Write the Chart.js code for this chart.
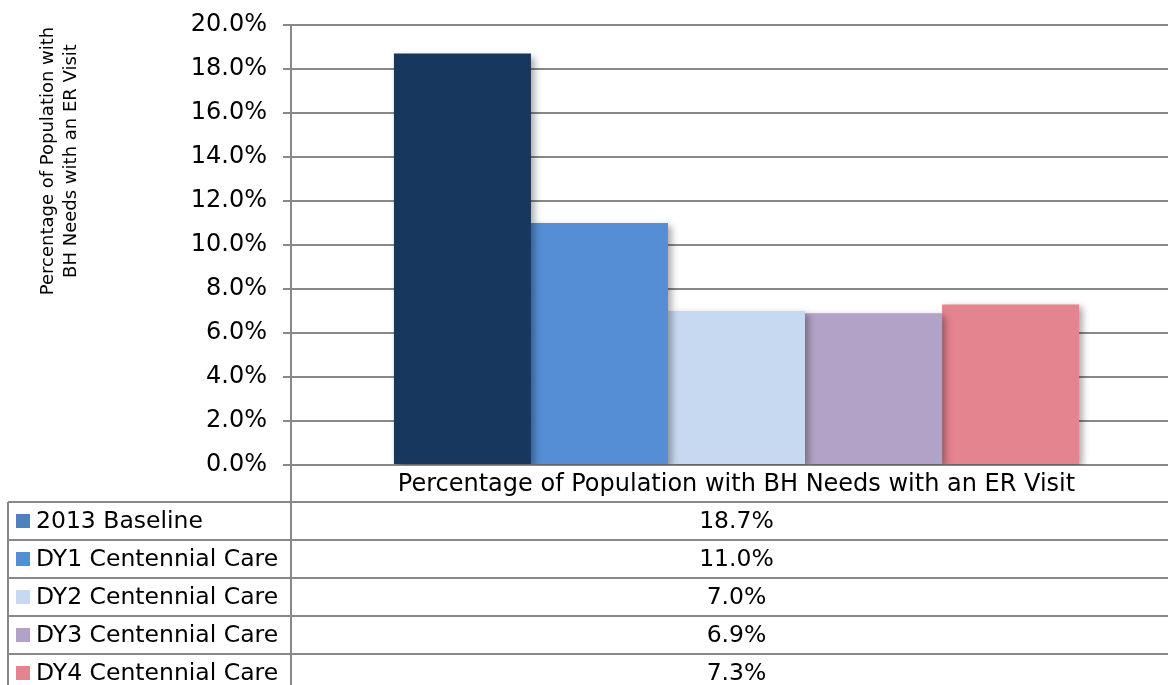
<!DOCTYPE html>
<html>
<head>
<meta charset="utf-8">
<script src="https://cdn.jsdelivr.net/npm/chart.js@4/dist/chart.umd.min.js"></script>
<style>
  html, body {
    margin: 0;
    padding: 0;
    overflow: hidden;
    background: #ffffff;
  }
</style>
</head>
<body>
<canvas id="erVisitChart" width="1182" height="685"></canvas>
<script>
// data
const categories = [
  "Percentage of Population with BH Needs with an ER Visit"
];

const seriesNames = [
  "2013 Baseline",
  "DY1 Centennial Care",
  "DY2 Centennial Care",
  "DY3 Centennial Care",
  "DY4 Centennial Care"
];

const seriesValues = [18.7, 11.0, 7.0, 6.9, 7.3];

const barColors = [
  "#17375E",
  "#558ED5",
  "#C6D9F1",
  "#B3A2C7",
  "#E4848F"
];

// the data table key for the baseline is lighter than its bar
const keyColors = [
  "#4F81BD",
  "#558ED5",
  "#C6D9F1",
  "#B3A2C7",
  "#E4848F"
];

const yTitleLines = [
  "Percentage of Population with",
  "BH Needs with an ER Visit"
];

const FONT = "'DejaVu Sans', Verdana, sans-serif";
const LINE_GRAY = "#888888";

function pct(v) {
  return v.toFixed(1) + "%";
}

// drop shadow under the bars
const barShadow = {
  id: "barShadow",
  beforeDatasetsDraw(chart) {
    const ctx = chart.ctx;
    ctx.save();
    ctx.shadowColor = "rgba(0,0,0,0.35)";
    ctx.shadowBlur = 7;
    ctx.shadowOffsetX = 4;
    ctx.shadowOffsetY = 3;
  },
  afterDatasetsDraw(chart) {
    chart.ctx.restore();
  }
};

// y axis title + data table under the plot
const dataTable = {
  id: "dataTable",
  afterDraw(chart) {
    const ctx = chart.ctx;
    const area = chart.chartArea;
    const W = chart.width;

    // axis title, two rotated lines
    ctx.save();
    ctx.fillStyle = "#000";
    ctx.font = "18px " + FONT;
    ctx.textAlign = "center";
    ctx.textBaseline = "middle";
    ctx.translate(60, 161);
    ctx.rotate(-Math.PI / 2);
    yTitleLines.forEach((line, i) => {
      ctx.fillText(line, 0, -11.5 + i * 23);
    });
    ctx.restore();

    const top = area.bottom + 37;
    const rowH = 38;
    const leftX = 8;
    const midX = area.left;
    const valueX = (area.left + area.right) / 2;

    ctx.save();
    ctx.strokeStyle = LINE_GRAY;
    ctx.lineWidth = 2;

    ctx.beginPath();
    for (let i = 0; i <= seriesNames.length; i++) {
      const y = top + i * rowH;
      ctx.moveTo(leftX, y);
      ctx.lineTo(W, y);
    }
    ctx.moveTo(leftX, top);
    ctx.lineTo(leftX, top + rowH * seriesNames.length);
    ctx.moveTo(midX, area.bottom);
    ctx.lineTo(midX, top + rowH * seriesNames.length);
    ctx.stroke();

    ctx.textBaseline = "middle";
    seriesNames.forEach((name, i) => {
      const cy = top + i * rowH + rowH / 2;

      ctx.fillStyle = keyColors[i];
      ctx.fillRect(16, cy - 7, 14, 14);

      ctx.fillStyle = "#000";
      ctx.font = "23.5px " + FONT;
      ctx.textAlign = "left";
      ctx.fillText(name, 36, cy + 1);

      ctx.textAlign = "center";
      ctx.fillText(pct(seriesValues[i]), valueX, cy + 1);
    });
    ctx.restore();
  }
};

const canvas = document.getElementById("erVisitChart");

const datasets = seriesNames.map((name, i) => ({
  label: name,
  data: [seriesValues[i]],
  backgroundColor: barColors[i],
  borderWidth: 0,
  categoryPercentage: 0.769,
  barPercentage: 1
}));

new Chart(canvas, {
  type: "bar",
  data: {
    labels: categories,
    datasets
  },
  options: {
    responsive: false,
    animation: false,
    layout: {
      padding: { top: 25, right: 0, bottom: 0, left: 0 }
    },
    plugins: {
      legend: { display: false },
      tooltip: { enabled: false }
    },
    scales: {
      x: {
        grid: {
          display: false,
          drawTicks: false,
          tickLength: 0
        },
        border: { color: LINE_GRAY, width: 2 },
        ticks: {
          color: "#000",
          padding: 5,
          maxRotation: 0,
          font: { family: FONT, size: 24 }
        },
        afterFit(scale) {
          scale.height = 220;
        }
      },
      y: {
        min: 0,
        max: 20,
        grid: {
          color: LINE_GRAY,
          lineWidth: 2,
          tickLength: 8
        },
        border: { color: LINE_GRAY, width: 2 },
        ticks: {
          stepSize: 2,
          color: "#000",
          padding: 16,
          font: { family: FONT, size: 24 },
          callback: v => pct(v)
        },
        afterFit(scale) {
          scale.width = 291;
          // the label padding would push the plot top down
          scale.paddingTop = 10;
          scale.paddingBottom = 10;
        }
      }
    }
  },
  plugins: [barShadow, dataTable]
});
</script>
</body>
</html>
